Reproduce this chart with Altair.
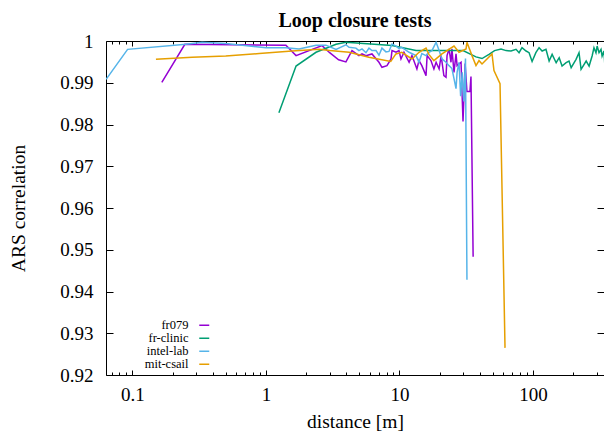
import altair as alt
import pandas as pd

series_names = ["fr079", "fr-clinic", "intel-lab", "mit-csail"]
series_colors = ["#9400d3", "#009e73", "#56b4e9", "#e69f00"]

fr079_x = [0.166, 0.247, 1.41, 1.68, 2.63, 3.0, 3.5, 3.97, 4.41, 4.97,
           5.24, 5.61, 6.22, 7.02, 7.39, 8.06, 8.64, 8.79, 9.42, 9.91,
           10.26, 10.8, 11.8, 12.4, 13.5, 14.0, 14.7, 15.8, 16.1, 17.2,
           18.1, 18.8, 19.8, 20.5, 21.5, 22.3, 22.7, 23.5, 24.3, 24.7,
           25.6, 26.5, 27.0, 28.9, 29.9, 31.0, 32.0, 33.7, 34.3, 35.6]
fr079_y = [0.9901, 0.9992, 0.9990, 0.9965, 0.9989, 0.9972, 0.9955, 0.9950, 0.9977, 0.9965,
           0.9969, 0.9965, 0.9969, 0.9949, 0.9937, 0.9941, 0.9957, 0.9977, 0.9973, 0.9977,
           0.9957, 0.9973, 0.9949, 0.9965, 0.9933, 0.9953, 0.9941, 0.9917, 0.9965, 0.9953,
           0.9933, 0.9949, 0.9933, 0.9965, 0.9917, 0.9913, 0.9965, 0.9981, 0.9949, 0.9981,
           0.9925, 0.9969, 0.9941, 0.9949, 0.9807, 0.9946, 0.9879, 0.9879, 0.9915, 0.9483]

fr_clinic_x = [1.25, 1.68, 2.37, 3.35, 3.97, 8.8, 13.3, 19.8, 29.9, 37.4,
               41.5, 46.8, 51.5, 57.6, 62.8, 68.4, 74.6, 78.6, 82.7, 88.7,
               93.4, 98.4, 105, 111, 117, 125, 132, 139, 149, 157,
               165, 177, 186, 193, 210, 221, 229, 250, 263, 277,
               286, 296, 302, 312, 323, 329, 340, 346, 358, 371]
fr_clinic_y = [0.9828, 0.9940, 0.9973, 0.9992, 0.9997, 0.9989, 0.9977, 0.9977, 0.9977, 0.9962,
               0.9958, 0.9968, 0.9977, 0.9981, 0.9977, 0.9976, 0.9980, 0.9972, 0.9984, 0.9976,
               0.9972, 0.9951, 0.9972, 0.9984, 0.9976, 0.9980, 0.9952, 0.9968, 0.9948, 0.9960,
               0.9940, 0.9948, 0.9952, 0.9936, 0.9956, 0.9972, 0.9932, 0.9952, 0.9940, 0.9964,
               0.9984, 0.9972, 0.9988, 0.9972, 0.9980, 0.9964, 0.9976, 0.9936, 0.9932, 0.9757]

intel_lab_x = [0.0635, 0.092, 0.252, 0.332, 0.502, 1.0, 1.41, 1.77, 2.37, 2.81,
               3.35, 3.97, 4.19, 4.72, 4.97, 5.24, 5.61, 5.91, 6.22, 6.67,
               7.02, 7.39, 7.92, 8.34, 8.79, 9.42, 9.91, 10.4, 11.8, 13.3,
               14.0, 14.7, 15.8, 16.6, 17.5, 18.8, 19.8, 20.8, 22.3, 23.5,
               24.7, 25.6, 26.5, 27.0, 27.9, 28.7, 29.5, 30.3, 31.2, 32.0]
intel_lab_y = [0.9908, 0.9980, 0.9992, 0.9997, 0.9994, 0.9984, 0.9984, 0.9981, 0.9990, 0.9990,
               0.9980, 0.9991, 0.9985, 0.9983, 0.9977, 0.9981, 0.9972, 0.9983, 0.9977, 0.9977,
               0.9966, 0.9983, 0.9974, 0.9975, 0.9993, 0.9988, 0.9982, 0.9985, 0.9973, 0.9965,
               0.9949, 0.9970, 0.9965, 0.9973, 0.9977, 0.9997, 0.9977, 0.9957, 0.9949, 0.9941,
               0.9934, 0.9910, 0.9886, 0.9925, 0.9949, 0.9868, 0.9925, 0.9855, 0.9958, 0.9428]

mit_csail_x = [0.15, 0.28, 0.50, 0.89, 1.57, 2.5, 3.0, 4.2, 5.9, 8.6,
               9.4, 10.4, 12.4, 14.0, 15.8, 16.6, 18.1, 20.8, 25.6, 27.9,
               31.5, 32.0, 34.9, 37.4, 39.4, 41.5, 49.3, 51.0, 56.6, 61.7]
mit_csail_y = [0.9956, 0.9961, 0.9964, 0.9970, 0.9976, 0.9980, 0.9977, 0.9973, 0.9961, 0.9951,
               0.9969, 0.9973, 0.9957, 0.9973, 0.9983, 0.9968, 0.9953, 0.9969, 0.9988, 0.9973,
               0.9981, 0.9997, 0.9965, 0.9941, 0.9953, 0.9945, 0.9969, 0.9929, 0.9898, 0.9265]

x_domain = [0.0634, 340]
y_domain = [0.92, 1.0]
x_major = [0.1, 1, 10, 100]
x_minor = [0.07, 0.08, 0.09, 0.2, 0.3, 0.4, 0.5, 0.6, 0.7, 0.8, 0.9,
           2, 3, 4, 5, 6, 7, 8, 9, 20, 30, 40, 50, 60, 70, 80, 90, 200, 300]
y_major = [0.92, 0.93, 0.94, 0.95, 0.96, 0.97, 0.98, 0.99, 1.0]

frames = []
for name, xs, ys in zip(series_names,
                        [fr079_x, fr_clinic_x, intel_lab_x, mit_csail_x],
                        [fr079_y, fr_clinic_y, intel_lab_y, mit_csail_y]):
    df = pd.DataFrame({"x": xs, "y": ys})
    df["series"] = name
    df["idx"] = range(len(df))
    frames.append(df)
data = pd.concat(frames, ignore_index=True)

FONT = "Liberation Serif"
x_scale = alt.Scale(type="log", domain=x_domain, nice=False)
y_scale = alt.Scale(domain=y_domain, nice=False, zero=False)

axis_text = dict(labelFont=FONT, labelFontSize=19, labelColor="black",
                 titleFont=FONT, titleFontSize=19.5, titleFontWeight="normal", titleColor="black",
                 tickColor="black", tickWidth=1, domainColor="black", domainWidth=1, grid=False)

base = alt.Chart(data)

lines = base.mark_line(strokeWidth=1.5, clip=True).encode(
    x=alt.X("x:Q", scale=x_scale, title="distance [m]",
            axis=alt.Axis(orient="bottom", values=x_major, format="~g", tickSize=5, offset=-5,
                          domain=False, labelPadding=10, titlePadding=8, labelFlush=False,
                          labelOverlap=False, **axis_text)),
    y=alt.Y("y:Q", scale=y_scale, title="ARS correlation",
            axis=alt.Axis(orient="left", values=y_major, format="~g", tickSize=7, offset=-7,
                          domain=False, labelPadding=13, titlePadding=31, labelFlush=False,
                          labelOverlap=False, **axis_text)),
    color=alt.Color("series:N", scale=alt.Scale(domain=series_names, range=series_colors),
                    legend=alt.Legend(orient="none", legendX=92, legendY=278, title=None,
                                      symbolType="stroke", symbolSize=100, symbolStrokeWidth=1.5,
                                      labelAlign="right", labelOffset=alt.ExprRef(expr="-22"),
                                      labelFont=FONT, labelFontSize=12.5, labelColor="black",
                                      padding=0, rowPadding=alt.ExprRef(expr="-1"))),
    order="idx:Q",
)


def ghost(xaxis, yaxis):
    return base.mark_line(opacity=0).encode(
        x=alt.X("x:Q", scale=x_scale, title=None, axis=xaxis),
        y=alt.Y("y:Q", scale=y_scale, title=None, axis=yaxis),
        detail="series:N",
        order="idx:Q",
    )


g1 = ghost(alt.Axis(orient="bottom", values=x_minor, tickSize=3, offset=-3, labels=False, domain=False, **axis_text),
           alt.Axis(orient="right", values=y_major, tickSize=7, offset=-7, labels=False, domain=False, **axis_text))
g2 = ghost(alt.Axis(orient="top", values=x_major, tickSize=5, offset=-5, labels=False, domain=False, **axis_text),
           alt.Axis(orient="left", ticks=False, labels=False, domain=True, **axis_text))
g3 = ghost(alt.Axis(orient="top", values=x_minor, tickSize=3, offset=-3, labels=False, domain=False, **axis_text),
           None)
g4 = ghost(alt.Axis(orient="bottom", ticks=False, labels=False, domain=True, **axis_text), None)
g5 = ghost(alt.Axis(orient="top", ticks=False, labels=False, domain=True, **axis_text), None)

chart = alt.layer(lines, g1, g2, g3, g4, g5).resolve_axis(
    x="independent", y="independent"
).properties(
    width=498,
    height=334,
    title=alt.TitleParams("Loop closure tests", font=FONT, fontSize=20, fontWeight="bold",
                          anchor="middle", color="black", offset=1),
    autosize=alt.AutoSizeParams(type="none"),
    padding={"left": 98, "top": 33, "right": 0, "bottom": 58},
).configure(font=FONT).configure_view(stroke=None)

chart.save("out.html", embed_options={"renderer": "svg", "actions": False})
